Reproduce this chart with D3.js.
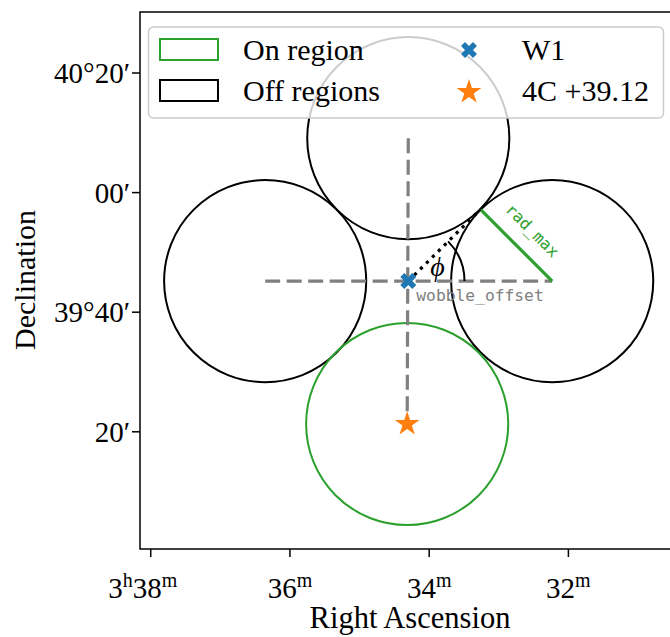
<!DOCTYPE html>
<html><head><meta charset="utf-8">
<script src="https://cdn.jsdelivr.net/npm/d3@7"></script>
<style>body{margin:0;background:#fff}svg{display:block}</style>
</head><body>
<script>
// ---- data (RA in minutes of 3h, Dec in arcmin) ----
const raTicks = [38, 36, 34, 32];
const raTickLabels = [["3","h","38","m"], ["","","36","m"], ["","","34","m"], ["","","32","m"]];
const decTicks = [2420, 2400, 2380, 2360];
const decTickLabels = ["40°20′", "00′", "39°40′", "20′"];
const pointing = {name: "W1", ra: 34.30, dec: 2385.2};
const source = {name: "4C +39.12", ra: 34.316, dec: 2361.3};
const onRegion = {ra: 34.316, dec: 2361.3, radius: 16.9};
const offRA = [36.356, 34.30, 32.233];
const offDec = [2385.2, 2409.1, 2385.2];
const offRadius = 16.9;
const phiArcRadius = 9.4;
const legendLabels = ["On region", "Off regions", "W1", "4C +39.12"];

const W = 670, H = 637;
const margin = {left: 140, top: 12};
const size = 537;
const x = d3.scaleLinear().domain([38.154, 30.44]).range([margin.left, margin.left + size]);
const y = d3.scaleLinear().domain([2430.2, 2340.4]).range([margin.top, margin.top + size]);
const rpx = r => Math.abs(y(0) - y(r));

const svg = d3.select("body").append("svg").attr("width", W).attr("height", H);
const serif = "'Liberation Serif', 'Times New Roman', serif";
const mono = "'DejaVu Sans Mono', monospace";

const plot = svg.append("g");
svg.append("clipPath").attr("id","clip").append("rect")
  .attr("x", margin.left).attr("y", margin.top).attr("width", size).attr("height", size);
plot.attr("clip-path","url(#clip)");

// off regions
const offs = offRA.map((r,i) => ({ra: r, dec: offDec[i]}));
plot.selectAll("circle.off").data(offs).join("circle").attr("class","off")
  .attr("cx", d => x(d.ra)).attr("cy", d => y(d.dec)).attr("r", rpx(offRadius))
  .attr("fill","none").attr("stroke","#000").attr("stroke-width",2);
// on region
plot.append("circle").attr("cx", x(onRegion.ra)).attr("cy", y(onRegion.dec)).attr("r", rpx(onRegion.radius))
  .attr("fill","none").attr("stroke","#2ca02c").attr("stroke-width",2);

// dashed lines
const dash = {stroke:"#808080", "stroke-width":3.2, "stroke-dasharray":"15,6.5"};
function applyAttrs(sel, a){ for (const k in a) sel.attr(k, a[k]); return sel; }
applyAttrs(plot.append("line").attr("x1", x(offs[0].ra)).attr("y1", y(offs[0].dec))
  .attr("x2", x(offs[2].ra)).attr("y2", y(offs[2].dec)), dash);
applyAttrs(plot.append("line").attr("x1", x(offs[1].ra)).attr("y1", y(offs[1].dec))
  .attr("x2", x(source.ra)).attr("y2", y(source.dec)), dash);

// rad_max line
const rc = [x(offs[2].ra), y(offs[2].dec)];
const rr = rpx(offRadius);
const rEnd = [rc[0] - rr*Math.SQRT1_2, rc[1] - rr*Math.SQRT1_2];
plot.append("line").attr("x1", rc[0]).attr("y1", rc[1]).attr("x2", rEnd[0]).attr("y2", rEnd[1])
  .attr("stroke","#2ca02c").attr("stroke-width",3.2);
const rmid = [(rc[0]+rEnd[0])/2, (rc[1]+rEnd[1])/2];
svg.append("text").attr("transform", `translate(${rmid[0]+12},${rmid[1]-11}) rotate(45)`)
  .attr("text-anchor","middle").attr("font-family", mono).attr("font-size",16)
  .attr("fill","#2ca02c").text("rad_max");

// dotted line to touching point of top and right off regions
const pc = [x(pointing.ra), y(pointing.dec)];
const touch = [(x(offs[1].ra)+x(offs[2].ra))/2, (y(offs[1].dec)+y(offs[2].dec))/2];
plot.append("line").attr("x1", pc[0]).attr("y1", pc[1]).attr("x2", touch[0]).attr("y2", touch[1])
  .attr("stroke","#000").attr("stroke-width",3.2).attr("stroke-dasharray","3.2,5.2").attr("stroke-linecap","butt");
// phi arc
const p = d3.path();
const ar = rpx(phiArcRadius);
p.arc(pc[0], pc[1], ar, -Math.PI/4, 0);
plot.append("path").attr("d", p.toString()).attr("fill","none").attr("stroke","#000").attr("stroke-width",2);
svg.append("text").attr("x", pc[0]+22).attr("y", pc[1]-5).attr("font-family", serif).attr("font-style","italic")
  .attr("font-size",28).text("ϕ");
svg.append("text").attr("x", pc[0]+8).attr("y", pc[1]+20).attr("font-family", mono).attr("font-size",16.3)
  .attr("fill","#808080").text("wobble_offset");

// markers
const xSym = d3.symbol().type(d3.symbolCross).size(160);
plot.append("path").attr("d", xSym()).attr("transform", `translate(${pc[0]},${pc[1]}) rotate(45)`)
  .attr("fill","#1f77b4");
const starSym = d3.symbol().type(d3.symbolStar).size(190);
plot.append("path").attr("d", starSym()).attr("transform", `translate(${x(source.ra)},${y(source.dec)})`)
  .attr("fill","#ff7f0e");

// legend
const lg = svg.append("g");
lg.append("rect").attr("x",148.5).attr("y",27).attr("width",515).attr("height",91).attr("rx",5)
  .attr("fill","#fff").attr("fill-opacity",0.8).attr("stroke","#ccc").attr("stroke-width",1.5);
lg.append("rect").attr("x",160).attr("y",39).attr("width",58).attr("height",21)
  .attr("fill","none").attr("stroke","#2ca02c").attr("stroke-width",2);
lg.append("rect").attr("x",160).attr("y",80).attr("width",58).attr("height",21)
  .attr("fill","none").attr("stroke","#000").attr("stroke-width",2);
lg.append("path").attr("d", xSym()).attr("transform","translate(469,50) rotate(45)").attr("fill","#1f77b4");
lg.append("path").attr("d", starSym()).attr("transform","translate(469,92)").attr("fill","#ff7f0e");
const lpos = [[243,60],[243,101],[522,60],[522,101]];
legendLabels.forEach((t,i)=>{
  lg.append("text").attr("x",lpos[i][0]).attr("y",lpos[i][1]).attr("font-family",serif)
    .attr("font-size",30).text(t);
});

// axes spines
svg.append("rect").attr("x",margin.left).attr("y",margin.top).attr("width",size).attr("height",size)
  .attr("fill","none").attr("stroke","#000").attr("stroke-width",1.5);

// x ticks
raTicks.forEach((t,i)=>{
  const px = x(t);
  svg.append("line").attr("x1",px).attr("x2",px).attr("y1",margin.top+size).attr("y2",margin.top+size+8)
    .attr("stroke","#000").attr("stroke-width",1.5);
  const lab = raTickLabels[i];
  const tx = svg.append("text").attr("y", 598).attr("font-family",serif).attr("font-size",29)
    .attr("text-anchor","middle").attr("x", px - (lab[0] ? 8 : 0));
  if (lab[0]) { tx.append("tspan").text(lab[0]); tx.append("tspan").attr("font-size",20).attr("dy",-11).text(lab[1]); tx.append("tspan").attr("dy",11).text(lab[2]); }
  else tx.append("tspan").text(lab[2]);
  tx.append("tspan").attr("font-size",20).attr("dy",-11).text(lab[3]);
});
// y ticks
decTicks.forEach((t,i)=>{
  const py = y(t);
  svg.append("line").attr("x1",margin.left-8).attr("x2",margin.left).attr("y1",py).attr("y2",py)
    .attr("stroke","#000").attr("stroke-width",1.5);
  svg.append("text").attr("x",130).attr("y",py+10).attr("text-anchor","end").attr("font-family",serif)
    .attr("font-size",29).text(decTickLabels[i]);
});
svg.append("text").attr("x",410).attr("y",628).attr("text-anchor","middle").attr("font-family",serif)
  .attr("font-size",30.5).text("Right Ascension");
svg.append("text").attr("transform","translate(35,280) rotate(-90)").attr("text-anchor","middle")
  .attr("font-family",serif).attr("font-size",30).text("Declination");
</script>
</body></html>
